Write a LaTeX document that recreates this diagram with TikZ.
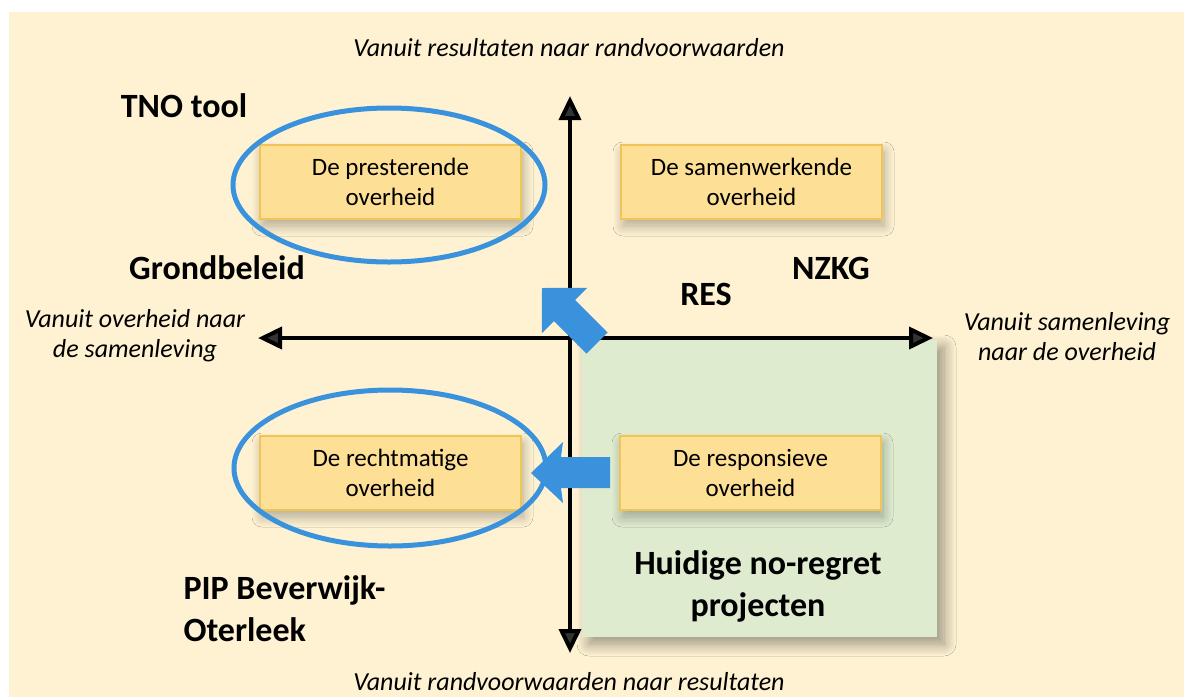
\documentclass[tikz,border=0pt]{standalone}
\usepackage{fontspec}
\setmainfont{Carlito}
\usetikzlibrary{arrows.meta,shadows.blur}

\definecolor{creme}{RGB}{254,242,211}
\definecolor{kaderblauw}{RGB}{58,146,221}
\definecolor{vakgeel}{RGB}{253,224,150}
\definecolor{vakrand}{RGB}{240,196,86}
\definecolor{lichtgroen}{RGB}{222,235,207}

\tikzset{
	vak/.style={draw=vakrand, line width=1.2pt, fill=vakgeel, minimum width=261pt, minimum height=74pt,
		align=center, font=\fontsize{25}{30}\selectfont,
		blur shadow={shadow xshift=2pt, shadow yshift=-7pt, shadow blur radius=10pt, shadow blur steps=12, shadow opacity=30}},
	kring/.style={draw=kaderblauw, line width=5pt},
	as/.style={line width=4pt, {Triangle[width=22pt,length=24pt]}-{Triangle[width=22pt,length=24pt]}},
	richting/.style={font=\fontsize{26}{30}\selectfont\itshape, align=center},
	kop/.style={font=\fontsize{34}{42}\selectfont\bfseries},
	pijl/.style={fill=kaderblauw}
}

\begin{document}
\begin{tikzpicture}[x=1pt, y=-1pt]
	\useasboundingbox (0,0) rectangle (1184,697);
	\fill [creme] (9,12) rectangle (1184,697);
	
	% no-regret vlak
	\fill [lichtgroen, blur shadow={shadow xshift=7pt, shadow yshift=-7pt, shadow blur radius=12pt, shadow blur steps=12, shadow opacity=40}] (582,340) rectangle (937,637);
	
	% assen
	\coordinate (boven) at (570,96);
	\coordinate (onder) at (570,653);
	\coordinate (links) at (258,338);
	\coordinate (rechts) at (933,338);
	\draw [as] (onder) -- (boven);
	\draw [as] (links) -- (rechts);
	
	\node [vak] (presterend) at (390.5,182) {De presterende\\overheid};
	\node [vak] (samenwerkend) at (751.5,182) {De samenwerkende\\overheid};
	\node [vak] (rechtmatig) at (390.5,473) {De rechtmatige\\overheid};
	\node [vak] (responsief) at (750.5,473) {De responsieve\\overheid};
	
	\draw [kring] (389,185) ellipse [x radius=156, y radius=77];
	\draw [kring] (390,468) ellipse [x radius=156, y radius=78];
	
	\fill [pijl] (586.4,353.6) -- (553.9,321.1) -- (541.9,333.1) -- (542,288) -- (587.1,287.9) -- (575.1,299.9) -- (607.6,332.4) -- cycle;
	\fill [pijl] (610,457) -- (561,457) -- (563,442) -- (531,473) -- (563,503) -- (561,488) -- (610,488) -- cycle;
	
	\node [richting] (resrand) at (569,48) {Vanuit resultaten naar randvoorwaarden};
	\node [richting] (randres) at (569,682) {Vanuit randvoorwaarden naar resultaten};
	\node [richting] (overheid) at (135,336) {Vanuit overheid naar\\de samenleving};
	\node [richting] (samenleving) at (1067,337) {Vanuit samenleving\\naar de overheid};
	
	\node [kop] (tno) at (184,106) {TNO tool};
	\node [kop] (grond) at (217,268) {Grondbeleid};
	\node [kop] (nzkg) at (831,268) {NZKG};
	\node [kop] (res) at (706,294) {RES};
	\node [kop, align=left, anchor=west] (pip) at (180,609) {PIP Beverwijk-\\Oterleek};
	\node [kop, align=center] (noregret) at (758,586) {Huidige no-regret\\projecten};
\end{tikzpicture}
\end{document}
